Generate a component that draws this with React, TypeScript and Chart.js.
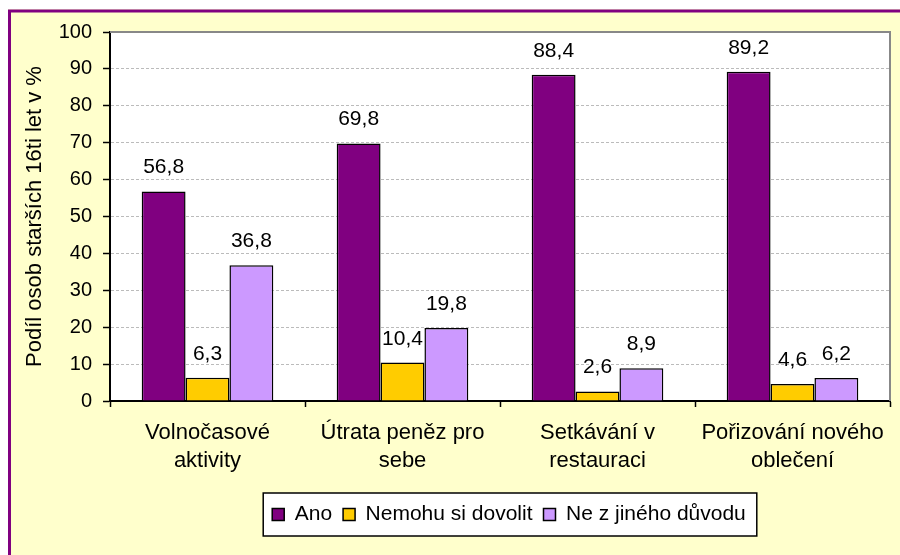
import { useEffect, useRef } from "react";
import { Chart, registerables } from "chart.js";

Chart.register(...registerables);

const categories = [
  ["Volnočasové", "aktivity"],
  ["Útrata peněz pro", "sebe"],
  ["Setkávání v", "restauraci"],
  ["Pořizování nového", "oblečení"],
];
const seriesNames = ["Ano", "Nemohu si dovolit", "Ne z jiného důvodu"];
const anoValues = [56.8, 69.8, 88.4, 89.2];
const nemohuValues = [6.3, 10.4, 2.6, 4.6];
const jinyDuvodValues = [36.8, 19.8, 8.9, 6.2];
const seriesColors = ["#800080", "#FFCC00", "#CC99FF"];
const yAxisTitle = "Podíl osob starších 16ti let v %";
const yMin = 0;
const yMax = 100;
const yStep = 10;

const FONT = "'Liberation Sans', Arial, sans-serif";

const framePlugin = {
  id: "frame",
  beforeDraw(chart: any) {
    const ctx = chart.ctx;
    const { width, height } = chart;
    ctx.save();
    ctx.fillStyle = "#ffffff";
    ctx.fillRect(0, 0, width, height);
    ctx.fillStyle = "#FFFFCC";
    ctx.fillRect(8, 9, width, height);
    ctx.strokeStyle = "#800080";
    ctx.lineWidth = 3;
    ctx.beginPath();
    ctx.moveTo(9.5, height + 5);
    ctx.lineTo(9.5, 11);
    ctx.lineTo(width + 5, 11);
    ctx.stroke();
    const a = chart.chartArea;
    ctx.fillStyle = "#ffffff";
    ctx.fillRect(a.left, a.top, a.right - a.left, a.bottom - a.top);
    // legend box
    const lg = chart.legend;
    if (lg && lg.legendHitBoxes && lg.legendHitBoxes.length) {
      const hb = lg.legendHitBoxes;
      const l = hb[0].left - 9;
      const r = hb[hb.length - 1].left + hb[hb.length - 1].width + 11;
      const t = lg.top;
      const b = lg.top + 43;
      ctx.fillStyle = "#ffffff";
      ctx.fillRect(l, t, r - l, b - t);
      ctx.strokeStyle = "#000000";
      ctx.lineWidth = 1.5;
      ctx.strokeRect(l, t, r - l, b - t);
    }
    ctx.restore();
  },
  beforeDatasetsDraw(chart: any) {
    const ctx = chart.ctx;
    const a = chart.chartArea;
    ctx.save();
    ctx.strokeStyle = "#888888";
    ctx.lineWidth = 2;
    ctx.beginPath();
    ctx.moveTo(a.left, a.top);
    ctx.lineTo(a.right, a.top);
    ctx.lineTo(a.right, a.bottom);
    ctx.stroke();
    ctx.restore();
  },
  afterDatasetsDraw(chart: any) {
    const ctx = chart.ctx;
    ctx.save();
    ctx.fillStyle = "#000000";
    ctx.font = `21px ${FONT}`;
    ctx.textAlign = "center";
    ctx.textBaseline = "alphabetic";
    chart.data.datasets.forEach((ds: any, i: number) => {
      const meta = chart.getDatasetMeta(i);
      meta.data.forEach((bar: any, j: number) => {
        const v = ds.data[j] as number;
        ctx.fillText(v.toFixed(1).replace(".", ","), bar.x, bar.y - 18);
      });
    });
    ctx.restore();
  },
  afterLayout(chart: any) {
    const lg = chart.legend;
    if (lg) {
      lg.left += 9;
      lg.right += 9;
    }
  },
};

export default function App() {
  const ref = useRef<HTMLCanvasElement | null>(null);
  useEffect(() => {
    if (!ref.current) return;
    const data = [anoValues, nemohuValues, jinyDuvodValues];
    const chart = new Chart(ref.current, {
      type: "bar",
      data: {
        labels: categories,
        datasets: seriesNames.map((name, i) => ({
          label: name,
          data: data[i],
          backgroundColor: seriesColors[i],
          borderColor: "#000000",
          borderWidth: 1.5,
          categoryPercentage: 0.675,
          barPercentage: 1,
        })),
      },
      options: {
        responsive: false,
        animation: false,
        devicePixelRatio: 1,
        events: [],
        layout: { padding: { top: 32, right: 10, bottom: 20, left: 0 } },
        plugins: {
          tooltip: { enabled: false },
          legend: {
            position: "bottom",
            fullSize: false,
            labels: {
              font: { family: FONT, size: 21 },
              color: "#000000",
              boxWidth: 12,
              boxHeight: 12,
              padding: 11,
            },
          },
        },
        scales: {
          x: {
            afterFit(scale: any) {
              scale.height = 92;
            },
            grid: {
              display: true,
              drawOnChartArea: false,
              drawTicks: true,
              offset: true,
              tickLength: 6,
              tickColor: "#000000",
              tickWidth: 1.5,
            },
            border: { display: true, color: "#000000", width: 2 },
            ticks: {
              font: { family: FONT, size: 22, lineHeight: 1.27 },
              color: "#000000",
              padding: 12,
              maxRotation: 0,
              autoSkip: false,
            },
          },
          y: {
            min: yMin,
            max: yMax,
            afterFit(scale: any) {
              scale.width = 110;
            },
            ticks: {
              stepSize: yStep,
              font: { family: FONT, size: 20 },
              color: "#000000",
              padding: 11,
            },
            grid: {
              color: "#bbbbbb",
              lineWidth: 1,
              tickColor: "#000000",
              tickLength: 7,
              tickWidth: 1.5,
              tickBorderDash: [],
            },
            border: { display: true, color: "#000000", width: 2, dash: [3, 2] },
            title: {
              display: true,
              text: yAxisTitle,
              font: { family: FONT, size: 22 },
              color: "#000000",
              padding: { top: 22, bottom: 0 },
            },
          },
        },
      },
      plugins: [framePlugin],
    } as any);
    return () => chart.destroy();
  }, []);
  return (
    <div style={{ position: "absolute", left: 0, top: 0, width: 900, height: 555 }}>
      <canvas ref={ref} width={900} height={555} style={{ display: "block" }} />
    </div>
  );
}
